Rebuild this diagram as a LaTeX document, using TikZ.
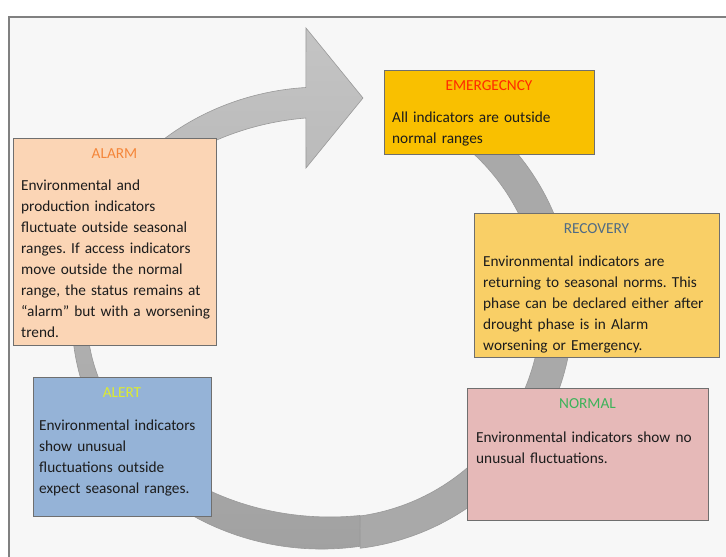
\documentclass[tikz,border=0pt]{standalone}
\usepackage{fontspec}
\setmainfont{Carlito}
\frenchspacing
\usetikzlibrary{calc}
\definecolor{PhasePaper}{HTML}{F7F7F7}
\definecolor{PhaseFrame}{HTML}{808080}
\definecolor{PhaseInk}{HTML}{1C1C1C}
\definecolor{PhaseEdge}{HTML}{6F6F6F}
\definecolor{RingLight}{HTML}{C4C4C4}
\definecolor{RingDark}{HTML}{A0A0A0}
\definecolor{RingMid}{HTML}{A9A9A9}
\definecolor{RingEdge}{HTML}{999999}
\definecolor{EmergencyFill}{HTML}{F9C000}
\definecolor{EmergencyTitle}{HTML}{FF2A00}
\definecolor{AlarmFill}{HTML}{FBD5B5}
\definecolor{AlarmTitle}{HTML}{F4863A}
\definecolor{RecoveryFill}{HTML}{F9CF66}
\definecolor{RecoveryTitle}{HTML}{4F6B85}
\definecolor{AlertFill}{HTML}{95B3D7}
\definecolor{AlertTitle}{HTML}{DDEB30}
\definecolor{NormalFill}{HTML}{E6B9B8}
\definecolor{NormalTitle}{HTML}{3DB35A}

\begin{document}
\begin{tikzpicture}[x=1pt, y=-1pt,
    phasebox/.style={draw=PhaseEdge, line width=0.8pt, anchor=north west, inner sep=0pt, outer sep=0pt},
    phasetitle/.style={anchor=base, inner sep=0pt, font=\fontsize{15.3}{21}\selectfont},
    phasetext/.style={anchor=base west, inner sep=0pt, align=left, text=PhaseInk, font=\fontsize{15.3}{21}\selectfont},
    ring/.style={draw=RingEdge, line width=0.6pt}]
          % Canvas
          \useasboundingbox (0,0) rectangle (726,557);
          \fill[PhasePaper] (9,17) rectangle (726,557);
          \draw[PhaseFrame, line width=1.5pt] (726,17) -- (9,17) -- (9,557);

          % Cycle arrow
          \coordinate (ringR) at (331,308);
          \coordinate (ringL) at (322,318);
          \coordinate (ringLin) at (330,317);
          \path[ring, fill=RingMid] ($(ringR)+(-55:242)$) arc[start angle=-55, end angle=83.1, radius=242]
              -- ($(ringR)+(82.1:210)$) arc[start angle=82.1, end angle=-55, radius=210] -- cycle;
          \path[ring, top color=RingLight, bottom color=RingDark]
              ($(ringL)+(81.3:250 and 231)$) arc[start angle=81.3, end angle=266.3, x radius=250, y radius=231]
              -- (306,28) -- (363,98) -- (306,168)
              -- ($(ringLin)+(264.3:243 and 200)$) arc[start angle=264.3, end angle=82.9, x radius=243, y radius=200] -- cycle;

          % Phase boxes
          \node[phasebox, fill=EmergencyFill, minimum width=210pt, minimum height=84pt] (emergency) at (384,70) {};
          \node[phasebox, fill=AlarmFill, minimum width=203pt, minimum height=207pt] (alarm) at (13,138) {};
          \node[phasebox, fill=RecoveryFill, minimum width=245pt, minimum height=144pt] (recovery) at (474,213) {};
          \node[phasebox, fill=AlertFill, minimum width=178pt, minimum height=139pt] (alert) at (33,377) {};
          \node[phasebox, fill=NormalFill, minimum width=241pt, minimum height=132pt] (normal) at (467,388) {};

          % Titles
          \node[phasetitle, text=EmergencyTitle] (emergencytitle) at ($(emergency.north)+(0,20.5)$) {EMERGECNCY};
          \node[phasetitle, text=AlarmTitle] (alarmtitle) at ($(alarm.north)+(0,20.5)$) {ALARM};
          \node[phasetitle, text=RecoveryTitle] (recoverytitle) at ($(recovery.north)+(0,20.5)$) {RECOVERY};
          \node[phasetitle, text=AlertTitle] (alerttitle) at ($(alert.north)+(0,20.5)$) {ALERT};
          \node[phasetitle, text=NormalTitle] (normaltitle) at ($(normal.north)+(0,20.5)$) {NORMAL};

          % Descriptions
          \node[phasetext, text width=200pt] (emergencytext) at ($(emergency.north west)+(8,52.5)$)
              {All indicators are outside\\normal ranges};
          \node[phasetext, text width=195pt] (alarmtext) at ($(alarm.north west)+(8,52.5)$)
              {Environmental and\\production indicators\\fluctuate outside seasonal\\ranges. If access indicators\\move outside the normal\\range, the status remains at\\“alarm” but with a worsening\\trend.};
          \node[phasetext, text width=235pt] (recoverytext) at ($(recovery.north west)+(9,53.5)$)
              {Environmental indicators are\\returning to seasonal norms. This\\phase can be declared either after\\drought phase is in Alarm\\worsening or Emergency.};
          \node[phasetext, text width=170pt] (alerttext) at ($(alert.north west)+(6,53)$)
              {Environmental indicators\\show unusual\\fluctuations outside\\expect seasonal ranges.};
          \node[phasetext, text width=232pt] (normaltext) at ($(normal.north west)+(9,54)$)
              {Environmental indicators show no\\unusual fluctuations.};
        \end{tikzpicture}
\end{document}
